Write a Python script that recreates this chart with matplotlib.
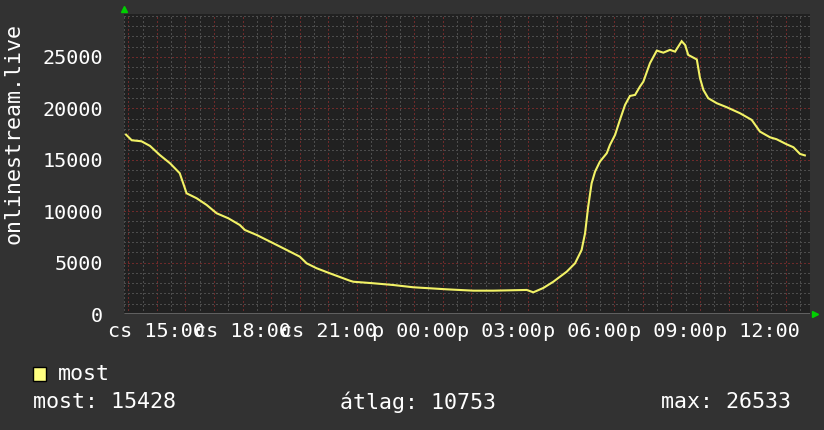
import matplotlib
matplotlib.use("Agg")
import matplotlib.pyplot as plt
import numpy as np

# hours counted from cs 00:00 (24 = p 00:00)
hours = [13.92, 14.12, 14.46, 14.76, 15.1, 15.46, 15.8, 15.92, 16.04, 16.39, 16.74,
         17.09, 17.5, 17.9, 18.08, 18.49, 18.96, 19.54, 20.0, 20.24, 20.59, 21.05,
         21.75, 21.87, 22.57, 23.27, 23.97, 25.14, 26.07, 26.77, 27.94, 28.17, 28.52,
         28.87, 29.34, 29.63, 29.86, 29.98, 30.09, 30.21, 30.33, 30.5, 30.74, 30.85,
         31.03, 31.2, 31.38, 31.55, 31.73, 31.9, 32.02, 32.25, 32.49, 32.72, 32.95,
         33.13, 33.36, 33.48, 33.59, 33.89, 34.0, 34.12, 34.29, 34.59, 34.94, 35.4,
         35.81, 36.1, 36.45, 36.68, 37.03, 37.27, 37.5, 37.67]
viewers = [17450, 16900, 16800, 16350, 15470, 14660, 13690, 12720, 11740, 11260, 10610,
           9800, 9310, 8660, 8170, 7690, 7040, 6230, 5580, 4930, 4450, 3960,
           3240, 3140, 2990, 2820, 2600, 2400, 2270, 2270, 2340, 2110, 2530,
           3140, 4120, 4930, 6230, 7850, 10440, 12720, 13850, 14820, 15640, 16440,
           17420, 18880, 20340, 21210, 21310, 22120, 22600, 24390, 25620, 25420, 25690,
           25520, 26533, 26170, 25200, 24760, 22960, 21800, 20990, 20500, 20110, 19530,
           18880, 17740, 17190, 17000, 16510, 16220, 15570, 15428]

tick_hours = [15, 18, 21, 24, 27, 30, 33, 36]
tick_labels = ["cs 15:00", "cs 18:00", "cs 21:00", "p 00:00",
               "p 03:00", "p 06:00", "p 09:00", "p 12:00"]
y_ticks = [0, 5000, 10000, 15000, 20000, 25000]

stats_labels = ["most: 15428", "átlag: 10753", "max: 26533"]
series_name = "most"
axis_title = "onlinestream.live"

bg = "#323232"
plot_bg = "#212121"
fg = "#ffffff"
line_col = "#f2f266"
font = "DejaVu Sans Mono"
fs = 14.5
fs_leg = 15.6

W, H = 824, 430
fig = plt.figure(figsize=(W / 100, H / 100), dpi=100, facecolor=bg)
ax = fig.add_axes([124 / W, 1 - 314 / H, (810 - 124) / W, 300 / H])
ax.set_facecolor(plot_bg)

x0, x1 = 13.85, 37.85
ax.set_xlim(x0, x1)
ax.set_ylim(0, 29180)

# grid: minor gray, major red, dotted like rrdtool
red = "#6e2a2a"
gray = "#4c4c4c"
for h in np.arange(14.0, x1, 0.5):
    col = red if float(h).is_integer() else gray
    ax.axvline(h, color=col, lw=1.0, ls=(0, (1, 2)), zorder=1, antialiased=False)
for v in range(1000, 29001, 1000):
    col = red if v % 5000 == 0 else gray
    ax.axhline(v, color=col, lw=1.0, ls=(0, (1, 2)), zorder=1, antialiased=False)

ax.plot(hours, viewers, color=line_col, lw=1.5, zorder=3, solid_joinstyle="miter")

for s in ax.spines.values():
    s.set_visible(False)
ax.axhline(0, color="#606060", lw=1.0, zorder=2, antialiased=False)
ax.axvline(x0, color=gray, lw=1.0, ls=(0, (1, 2)), zorder=2, antialiased=False)

ax.set_xticks(tick_hours)
ax.set_xticklabels(tick_labels, fontfamily=font, fontsize=fs, color=fg)
ax.set_yticks(y_ticks)
ax.set_yticklabels([str(v) for v in y_ticks], fontfamily=font, fontsize=fs, color=fg)
ax.tick_params(axis="x", length=0, pad=6)
ax.tick_params(axis="y", length=0, pad=15)

# arrows
ax.plot([0], [1.017], transform=ax.transAxes, marker="^", color="#00d000",
        ms=5, clip_on=False, zorder=5)
ax.plot([1.007], [0], transform=ax.transAxes, marker=">", color="#00d000",
        ms=5, clip_on=False, zorder=5)

fig.text(14 / W, 1 - 134 / H, axis_title, rotation=90, ha="center", va="center",
         fontfamily=font, fontsize=fs_leg, color=fg)

# legend
fig.patches.append(plt.Rectangle((33 / W, 1 - 381 / H), 13 / W, 14 / H,
                                 transform=fig.transFigure, facecolor="#ffff80",
                                 edgecolor="black", lw=1))
fig.text(58 / W, 1 - 374 / H, series_name, ha="left", va="center",
         fontfamily=font, fontsize=fs_leg, color=fg)
for xpos, lab in zip([33, 340, 661], stats_labels):
    fig.text(xpos / W, 1 - 402 / H, lab, ha="left", va="center",
             fontfamily=font, fontsize=fs_leg, color=fg)

fig.savefig("out.png", dpi=100, facecolor=bg)
